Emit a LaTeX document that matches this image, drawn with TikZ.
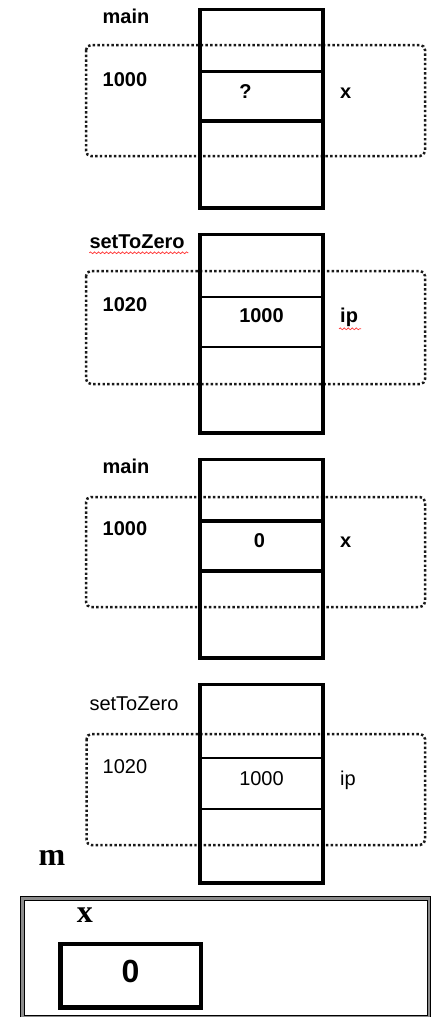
\documentclass[tikz,border=0pt]{standalone}
\usepackage{fontspec}
\setmainfont{Liberation Sans}
\newfontfamily\serifb{Liberation Serif}
\usetikzlibrary{decorations.pathmorphing}
\begin{document}
\begin{tikzpicture}[x=1pt,y=-1pt,
  stackbox/.style={line width=3.3pt},
  thickdiv/.style={line width=3.3pt},
  thindiv/.style={line width=1.3pt},
  frame/.style={draw=black!90, line width=2.5pt, dash pattern=on 2.4pt off 2.3pt, rounded corners=5pt},
  lab/.style={inner sep=0pt, anchor=base west, font=\fontsize{20}{24}\selectfont\bfseries},
  labr/.style={inner sep=0pt, anchor=base west, font=\fontsize{20}{24}\selectfont},
  val/.style={inner sep=0pt, anchor=base, font=\fontsize{20}{24}\selectfont\bfseries},
  valr/.style={inner sep=0pt, anchor=base, font=\fontsize{20}{24}\selectfont},
  serlab/.style={inner sep=0pt, anchor=base west, font=\fontsize{32}{36}\selectfont\serifb\bfseries},
  squiggle/.style={red!80, line width=0.7pt, decorate, decoration={snake, amplitude=0.9pt, segment length=4pt}}
]
\useasboundingbox (0,0) rectangle (432,1017);

% ---------- panel 1 ----------
\draw[frame] (86,45) rectangle (425,156);
\draw[stackbox] (200,9.5) rectangle (323,208);
\draw[thickdiv] (200,71.5) -- (323,71.5);
\draw[thickdiv] (200,121) -- (323,121);
\node[lab] (p1name) at (102.5,23.3) {main};
\node[lab] (p1addr) at (102.5,86) {1000};
\node[val] (p1val) at (245.5,98) {?};
\node[lab] (p1var) at (340,98) {x};

% ---------- panel 2 ----------
\draw[frame] (86,271) rectangle (425,384);
\draw[stackbox] (200,234.5) rectangle (323,433);
\draw[thindiv] (200,297) -- (323,297);
\draw[thindiv] (200,347) -- (323,347);
\node[lab] (p2name) at (89.3,248.3) {setToZero};
\node[lab] (p2addr) at (102.5,311) {1020};
\node[val] (p2val) at (261.5,322.3) {1000};
\node[lab] (p2var) at (340,322.3) {ip};
\draw[squiggle] (p2name.base west) ++(0,4.5) -- ++(99,0);
\draw[squiggle] (p2var.base west) ++(-1,6.5) -- ++(22,0);

% ---------- panel 3 ----------
\draw[frame] (86,497) rectangle (425,607);
\draw[stackbox] (200,459.5) rectangle (323,658);
\draw[thickdiv] (200,521) -- (323,521);
\draw[thickdiv] (200,571) -- (323,571);
\node[lab] (p3name) at (102.5,473.3) {main};
\node[lab] (p3addr) at (102.5,535) {1000};
\node[val] (p3val) at (259.5,547.3) {0};
\node[lab] (p3var) at (340,547.3) {x};

% ---------- panel 4 ----------
\draw[frame] (86.5,734) rectangle (425,845);
\draw[stackbox] (200,684.5) rectangle (323,883);
\draw[thindiv] (200,758) -- (323,758);
\draw[thindiv] (200,809) -- (323,809);
\node[labr] (p4name) at (89.3,710) {setToZero};
\node[labr] (p4addr) at (102.5,773.3) {1020};
\node[valr] (p4val) at (261.5,785) {1000};
\node[labr] (p4var) at (340,785) {ip};

% ---------- bottom ----------
\begin{scope}
  \clip (30,845) rectangle (65,880);
  \node[serlab] (mcut) at (38.3,865) {main};
\end{scope}
\draw[line width=1pt, double=black!45, double distance=2.5pt] (22.5,898.5) -- (428.8,898.5) -- (428.8,1016.8) -- (22.5,1016.8) -- cycle;
\node[serlab] (bx) at (76.7,922) {x};
\draw[line width=4.5pt] (60.5,944) rectangle (201,1007.5);
\node[inner sep=0pt, anchor=base, font=\fontsize{32}{36}\selectfont\bfseries] (bval) at (130.5,982) {0};
\end{tikzpicture}
\end{document}
